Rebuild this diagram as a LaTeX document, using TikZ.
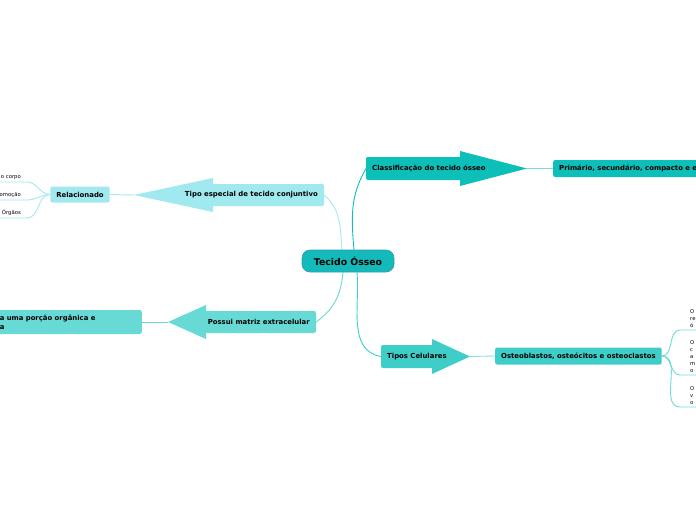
\documentclass[tikz,border=0pt]{standalone}
\usepackage{fontspec}
\setmainfont{DejaVu Sans}
\usetikzlibrary{backgrounds}
\definecolor{rootC}{HTML}{14B9B9}
\definecolor{rootD}{HTML}{2E9CB8}
\definecolor{clsC}{HTML}{0CBFB8}
\definecolor{tipC}{HTML}{3FCDC8}
\definecolor{tesC}{HTML}{A0E9EF}
\definecolor{pmxC}{HTML}{68DAD6}
\tikzset{
  lbl/.style={font=\fontsize{6.9}{8}\selectfont\bfseries, inner sep=0pt},
  box/.style={rounded corners=2pt, inner xsep=6pt, inner ysep=0pt, font=\fontsize{6.9}{8}\selectfont\bfseries},
  leaf/.style={font=\fontsize{5.3}{7}\selectfont, inner xsep=6pt, inner ysep=2pt, align=left},
  conn/.style={line width=0.9pt},
}
\begin{document}
\begin{tikzpicture}[x=1pt,y=-1pt]
\useasboundingbox (0,0) rectangle (696,520);

% centre
\node[draw=rootD, fill=rootC, rounded corners=8pt, line width=0.6pt, minimum width=92, minimum height=22,
  font=\fontsize{9.3}{11}\selectfont\bfseries] (root) at (348,261) {Tecido Ósseo};

% big arrows
\fill[clsC, rounded corners=2pt] (366,157) rectangle (462,180);
\fill[clsC] (460,151) -- (527,168.5) -- (460,186) -- cycle;
\coordinate (clsIn) at (366,168.5);
\coordinate (clsTip) at (527,168.5);
\node[lbl, anchor=west] (cls) at (372,168.5) {Classificação do tecido ósseo};

\fill[tipC, rounded corners=2pt] (381,345) rectangle (434,368);
\fill[tipC] (432,339) -- (470,356.5) -- (432,374) -- cycle;
\coordinate (tipIn) at (381,356.5);
\coordinate (tipTip) at (470,356.5);
\node[lbl, anchor=west] (tip) at (387,356.5) {Tipos Celulares};

\fill[tesC, rounded corners=2pt] (211,184) rectangle (324,206);
\fill[tesC] (213,178) -- (134,195) -- (213,212) -- cycle;
\coordinate (tesIn) at (324,195);
\coordinate (tesTip) at (134,195);
\node[lbl, anchor=east] (tes) at (318,195) {Tipo especial de tecido conjuntivo};

\fill[pmxC, rounded corners=2pt] (204,311) rectangle (316,333);
\fill[pmxC] (206,305) -- (168,322) -- (206,339) -- cycle;
\coordinate (pmxIn) at (316,322);
\coordinate (pmxTip) at (168,322);
\node[lbl, anchor=east] (pmx) at (310,322) {Possui matriz extracelular};

% subtopics
\node[box, fill=clsC, anchor=west, minimum height=17] (prim) at (553,168.5) {Primário, secundário, compacto e esponjoso};
\node[box, fill=tipC, anchor=west, minimum width=165, minimum height=17] (ost) at (495,356) {Osteoblastos, osteócitos e osteoclastos};
\node[box, fill=tesC, minimum width=58, minimum height=16] (rel) at (80,194.5) {Relacionado};
\node[box, fill=pmxC, anchor=east, minimum height=24, text width=136, align=left,
  font=\fontsize{6.9}{9}\selectfont\bfseries] (org) at (142,322) {a uma porção orgânica e\\a};

% leaves
\node[leaf, anchor=south east] (lfa) at (27,182) {o corpo};
\node[leaf, anchor=south east] (lfb) at (27,200) {omoção};
\node[leaf, anchor=south east] (lfc) at (27,218) {Órgãos};
\node[leaf, anchor=south west, inner xsep=10pt, text width=40] (rta) at (680,330) {O\\re\\ó};
\node[leaf, anchor=south west, inner xsep=10pt, text width=40] (rtb) at (680,375) {O\\c\\a\\m\\o};
\node[leaf, anchor=south west, inner xsep=10pt, text width=40] (rtc) at (680,407) {O\\v\\o};

\begin{scope}[on background layer]
\draw[conn, tesC] ([xshift=-6pt]root.north) to[out=95,in=-40] (tesIn);
\draw[conn, clsC] ([xshift=6pt]root.north) to[out=95,in=-120] (clsIn);
\draw[conn, pmxC] ([xshift=-5pt]root.south) to[out=-95,in=35] (pmxIn);
\draw[conn, tipC] ([xshift=9pt]root.south) to[out=-85,in=170] (tipIn);
\draw[conn, clsC!55] (clsTip) -- (prim.west);
\draw[conn, tipC!60] (tipTip) -- (ost.west);
\draw[conn, tesC] (tesTip) -- (rel.east);
\draw[conn, pmxC] (pmxTip) -- (org.east);
\foreach \n in {lfa,lfb,lfc}
  \draw[conn, tesC] (\n.south west) -- (\n.south east) to[out=0,in=180] (rel.west);
\foreach \n in {rta,rtb,rtc}
  \draw[conn, tipC!75] (ost.east) to[out=0,in=180] (\n.south west) -- (\n.south east);
\end{scope}
\end{tikzpicture}
\end{document}
